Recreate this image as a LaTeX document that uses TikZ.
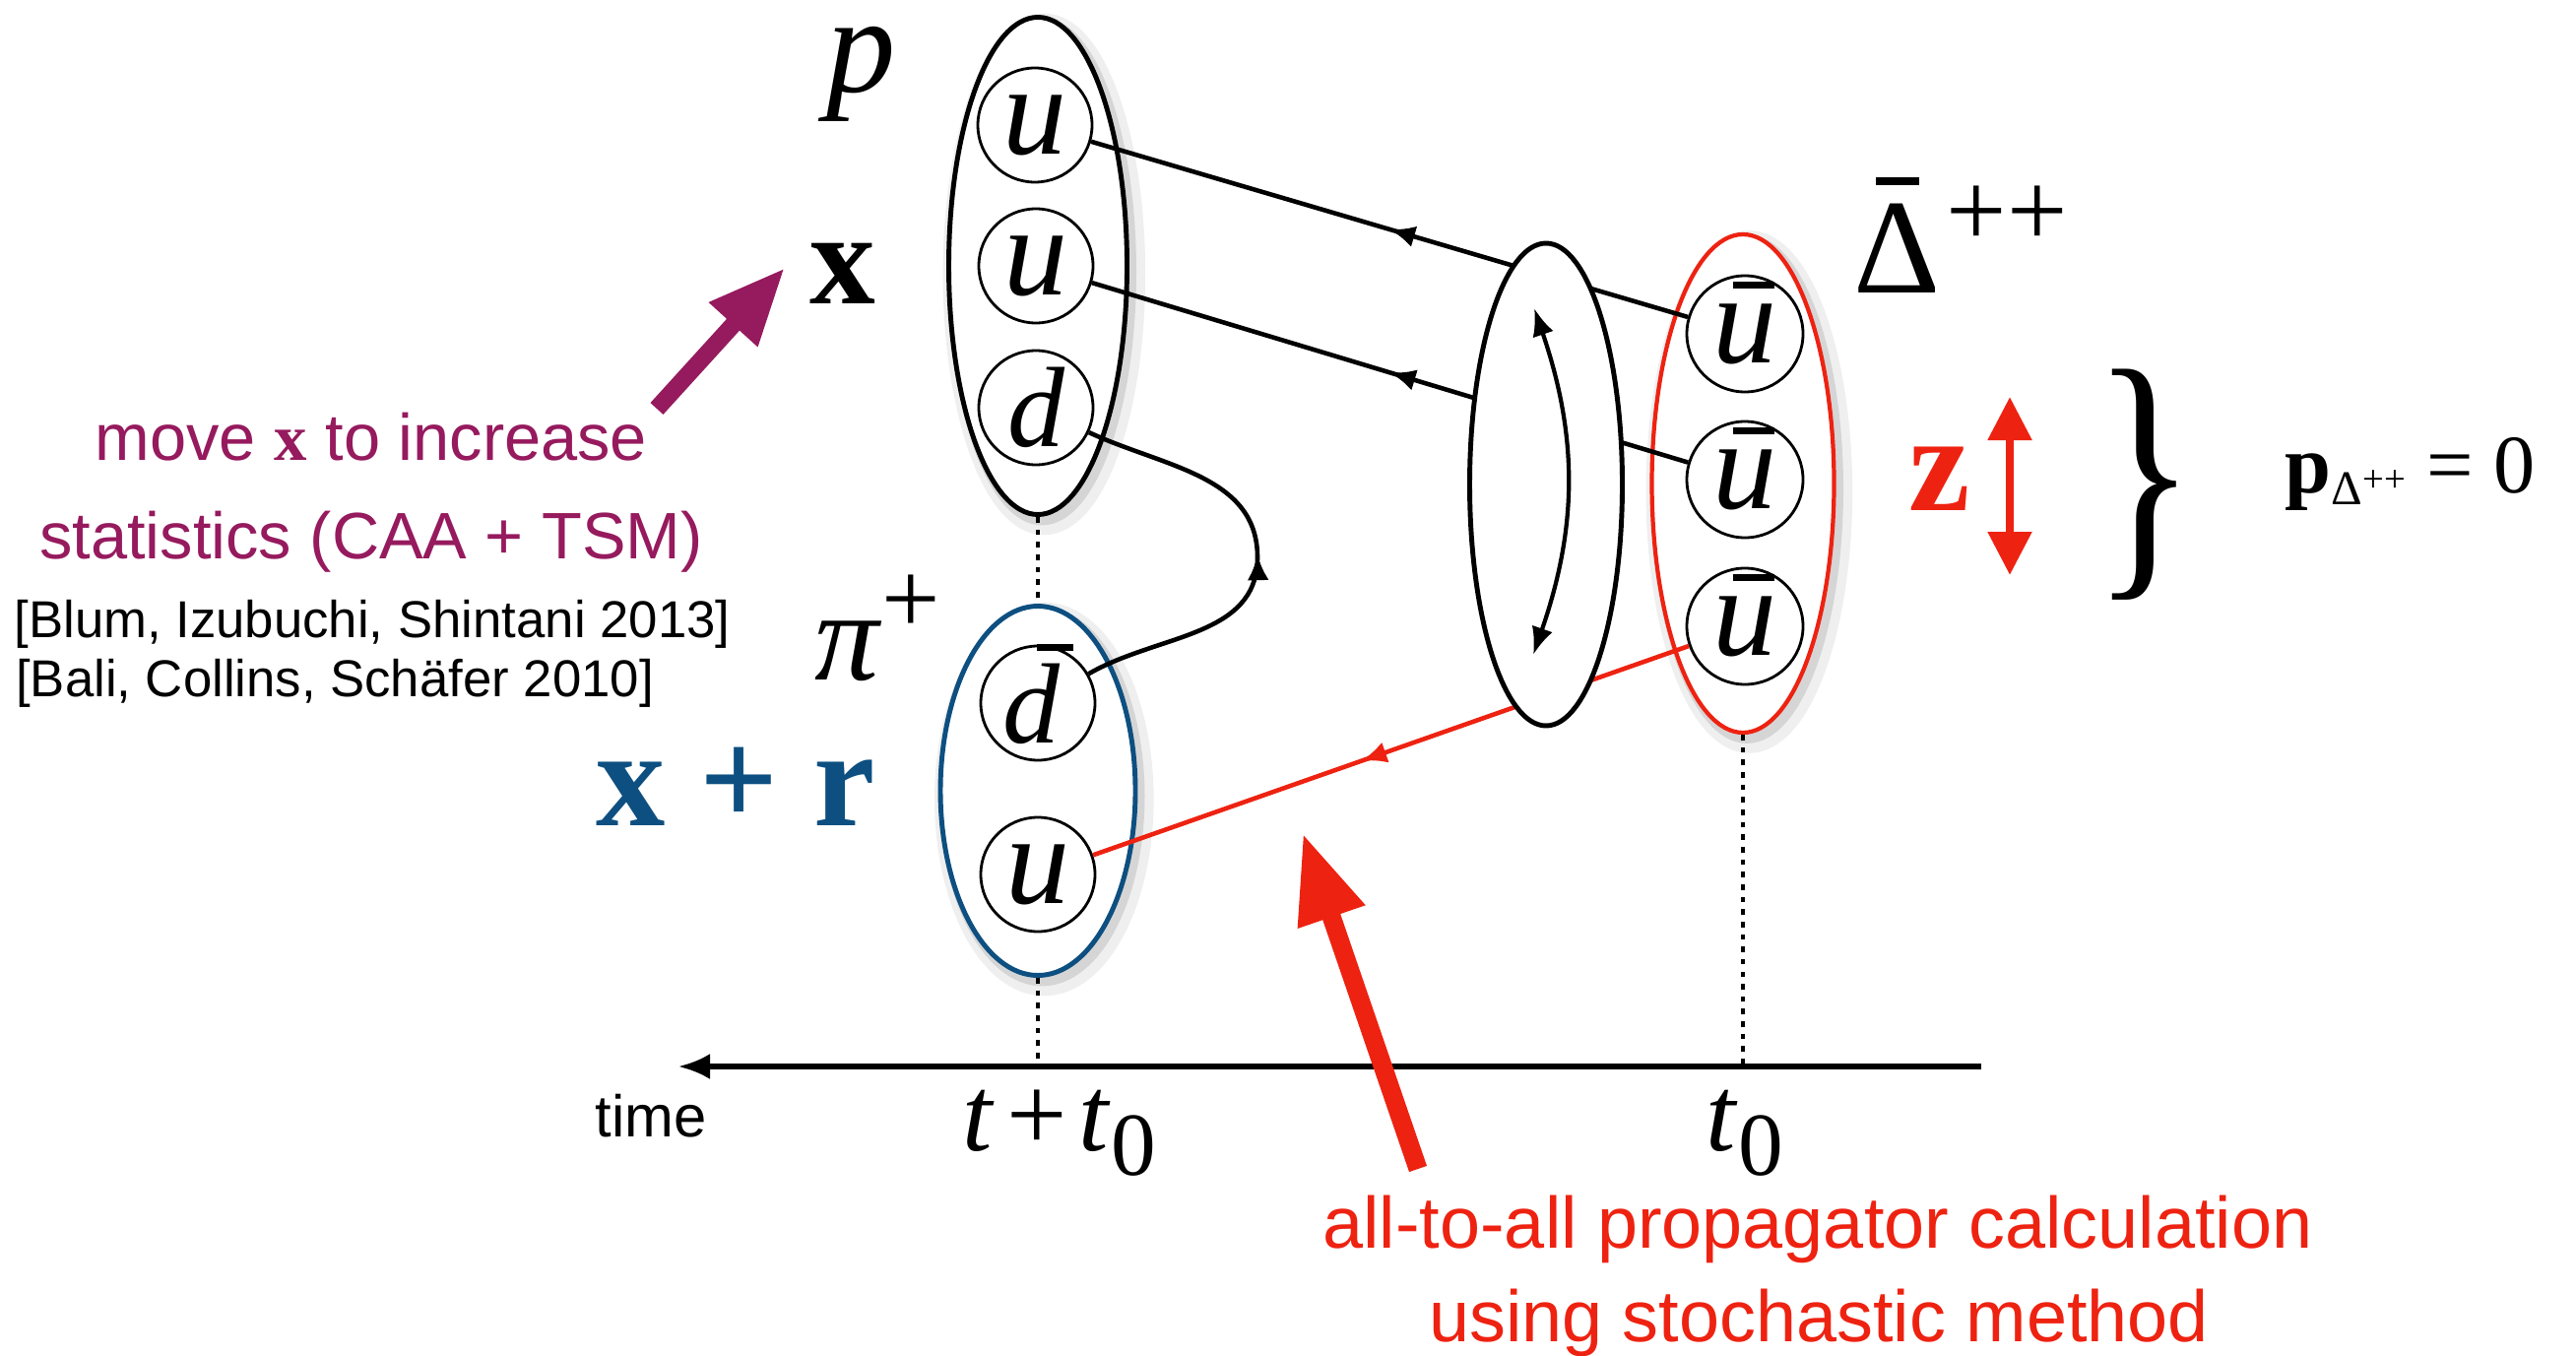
\documentclass[tikz,border=0pt]{standalone}
\usepackage{fontspec}
\setmainfont{Liberation Sans}
\newfontfamily\tms{Liberation Serif}
\usetikzlibrary{shapes.geometric, arrows.meta, positioning, decorations.markings, shadows}
\definecolor{hadblue}{HTML}{0D4F80}
\definecolor{stochred}{HTML}{EE2211}
\definecolor{movepurple}{HTML}{961A5E}

\newcommand{\fsz}[1]{\fontsize{#1}{#1}\selectfont}
\newcommand{\qbar}[3]{\ooalign{#3\cr\hfil\kern#2\rule[#1]{0.32em}{0.06em}\hfil\cr}}

\begin{document}
\begin{tikzpicture}[
  hadron/.style={ellipse, draw, fill=white, line width=1.4pt, inner sep=0pt,
    general shadow={shadow xshift=1.8pt, shadow yshift=-2.4pt, draw=black!25, line width=7pt, opacity=.25},
    general shadow={shadow xshift=1.2pt, shadow yshift=-1.6pt, draw=black!35, line width=3pt, opacity=.35}},
  quark/.style={circle, draw, fill=white, line width=0.8pt, minimum size=1.16cm, inner sep=0pt, font=\tms\itshape\fsz{37}},
  qline/.style={line width=1.3pt, postaction={decorate},
    decoration={markings, mark=at position #1 with {\arrow{Latex[length=0.26cm,width=0.22cm]}}}},
  qline/.default=0.5,
  timedots/.style={line width=1.4pt, dash pattern=on 1.6pt off 2pt},
  lbl/.style={anchor=base, inner sep=0pt}
]
  \useasboundingbox (0,0) rectangle (26.16,13.76);

  % Hadrons
  \node[hadron, minimum width=1.81cm, minimum height=5.05cm] (proton) at (10.54,11.06) {};
  \node[hadron, draw=hadblue, minimum width=1.98cm, minimum height=3.75cm] (pion) at (10.54,5.73) {};
  \node[hadron, draw=stochred, line width=1.2pt, minimum width=1.85cm, minimum height=5.06cm] (delta) at (17.70,8.85) {};

  % Quarks
  \node[quark] (u1) at (10.51,12.49) {u};
  \node[quark] (u2) at (10.52,11.06) {u};
  \node[quark, font=\tms\itshape\fsz{33}] (d) at (10.52,9.62) {d};
  \node[quark, font=\tms\itshape\fsz{33}] (db) at (10.54,6.62) {\qbar{0.8em}{0.3em}{d}};
  \node[quark] (up) at (10.54,4.88) {u};
  \node[quark, minimum size=1.18cm] (ub1) at (17.72,10.37) {\qbar{0.58em}{0.14em}{u}};
  \node[quark, minimum size=1.18cm] (ub2) at (17.72,8.89) {\qbar{0.58em}{0.14em}{u}};
  \node[quark, minimum size=1.18cm] (ub3) at (17.72,7.40) {\qbar{0.58em}{0.14em}{u}};

  % Time axis
  \coordinate (axisR) at (20.12,2.93);
  \coordinate (axisL) at (6.89,2.93);
  \draw[line width=1.5pt, -{Latex[length=0.32cm,width=0.26cm]}] (axisR) -- (axisL);
  \draw[timedots] (proton.south) -- (pion.north);
  \draw[timedots] (pion.south) -- (pion.south |- axisL);
  \draw[timedots] (delta.south) -- (delta.south |- axisL);

  % Propagators
  \coordinate (peak) at (12.77,8.10);
  \draw[qline] (ub1) -- (u1);
  \draw[qline] (ub2) -- (u2);
  \draw[qline=0.55, stochred] (ub3) -- (up);
  \draw[qline] (db) to[out=30, in=-90] (peak) to[out=90, in=-25] (d);

  % Loop
  \node[ellipse, draw, fill=white, line width=1.4pt, minimum width=1.55cm, minimum height=4.9cm, inner sep=0pt] (loop) at (15.70,8.84) {};
  \coordinate (loopT) at (15.58,10.63);
  \coordinate (loopB) at (15.57,7.11);
  \draw[line width=1.2pt, {Latex[length=0.28cm,width=0.22cm]}-{Latex[length=0.28cm,width=0.22cm]}] (loopT) to[bend left=19] (loopB);

  % Labels
  \node[lbl, font=\tms\itshape\fsz{40}] (plbl) at (8.75,12.82) {p};
  \node[lbl, font=\tms\bfseries\fsz{38}] (xlbl) at (8.56,10.67) {x};
  \node[lbl, anchor=base west, font=\tms\fsz{37}] (pilbl) at (8.27,6.86) {\textit{π}\raisebox{0.47cm}{\fsz{30}+}};
  \node[lbl, font=\tms\bfseries\fsz{40}, text=hadblue] (xrlbl) at (7.47,5.38) {x + r};
  \node[lbl, anchor=base west, font=\tms\fsz{39}] (dlbl) at (18.82,10.78) {\qbar{0.8em}{0pt}{Δ}\kern0.06cm\raisebox{0.47cm}{\fsz{31}++}};
  \node[lbl, font=\tms\bfseries\fsz{40}, text=stochred] (zlbl) at (19.70,8.58) {z};
  \coordinate (zTop) at (20.41,9.73);
  \coordinate (zBot) at (20.41,7.92);
  \draw[stochred, line width=2.4pt, {Triangle[length=0.44cm,width=0.43cm]}-{Triangle[length=0.44cm,width=0.43cm]}] (zTop) -- (zBot);
  \node[font=\tms\fsz{62}] (brace) at (21.78,8.84) {\scalebox{1}[1.3]{\}}};
  \node[lbl, font=\tms\fsz{24}] (pdelta) at (24.48,8.75) {\textbf{p}\raisebox{-0.12cm}{\fsz{14}Δ\raisebox{0.13cm}{\fsz{11}++}} = 0};

  \node[lbl, font=\fsz{17}] (timelbl) at (6.61,2.22) {time};
  \node[lbl, font=\tms\fsz{31}] (tlate) at (10.76,2.08) {\textit{t}\kern0.12cm+\kern0.12cm\textit{t}\raisebox{-0.25cm}{\fsz{26}0}};
  \node[lbl, font=\tms\fsz{31}] (tearly) at (17.72,2.08) {\textit{t}\raisebox{-0.25cm}{\fsz{26}0}};

  % Moving the sink
  \node[lbl, font=\fsz{19}, text=movepurple] (move1) at (3.77,9.09) {move {\tms\bfseries x} to increase};
  \node[lbl, font=\fsz{19}, text=movepurple] (move2) at (3.77,8.09) {statistics (CAA + TSM)};
  \node[lbl, font=\fsz{15}] (ref1) at (3.78,7.29) {[Blum, Izubuchi, Shintani 2013]};
  \node[lbl, font=\fsz{15}] (ref2) at (3.40,6.69) {[Bali, Collins, Schäfer 2010]};
  \coordinate (mvTail) at (6.67,9.61);
  \coordinate (mvTip) at (7.97,11.04);
  \draw[movepurple, line width=5pt, -{Triangle[length=0.78cm,width=0.62cm]}] (mvTail) -- (mvTip);

  % All-to-all
  \coordinate (aaTail) at (14.40,1.89);
  \coordinate (aaTip) at (13.23,5.30);
  \draw[stochred, line width=5.4pt, -{Triangle[length=0.9cm,width=0.67cm]}] (aaTail) -- (aaTip);
  \node[lbl, font=\fsz{21}, text=stochred] (aa1) at (18.46,1.09) {all-to-all propagator calculation};
  \node[lbl, font=\fsz{21}, text=stochred] (aa2) at (18.47,0.14) {using stochastic method};
\end{tikzpicture}
\end{document}
